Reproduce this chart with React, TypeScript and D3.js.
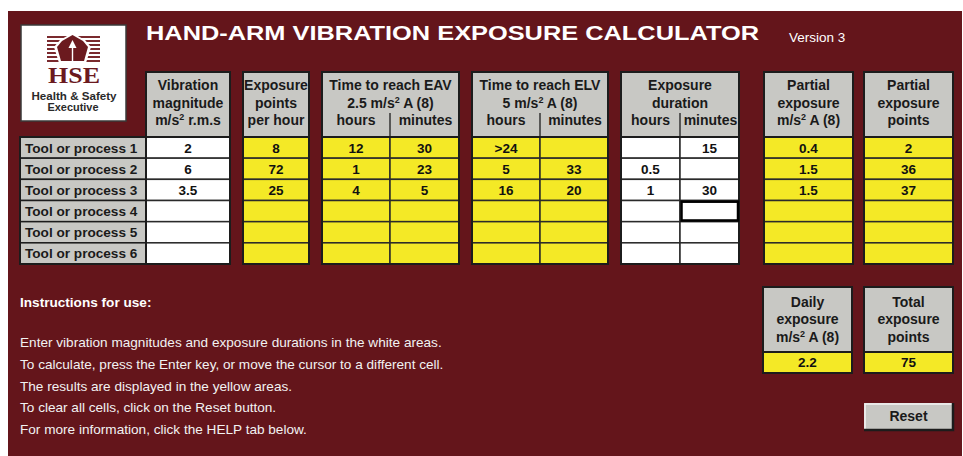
import * as d3 from "d3";

// rows of the sheet
const tools = [
  "Tool or process 1",
  "Tool or process 2",
  "Tool or process 3",
  "Tool or process 4",
  "Tool or process 5",
  "Tool or process 6",
];

// values ("" = empty cell)
const vibrationMagnitude = ["2", "6", "3.5", "", "", ""];
const pointsPerHour = ["8", "72", "25", "", "", ""];
const eavHours = ["12", "1", "4", "", "", ""];
const eavMinutes = ["30", "23", "5", "", "", ""];
const elvHours = [">24", "5", "16", "", "", ""];
const elvMinutes = ["", "33", "20", "", "", ""];
const durationHours = ["", "0.5", "1", "", "", ""];
const durationMinutes = ["15", "", "30", "", "", ""];
const partialExposure = ["0.4", "1.5", "1.5", "", "", ""];
const partialPoints = ["2", "36", "37", "", "", ""];
const dailyExposure = "2.2";
const totalPoints = "75";

const instructions = [
  "Enter vibration magnitudes and exposure durations in the white areas.",
  "To calculate, press the Enter key, or move the cursor to a different cell.",
  "The results are displayed in the yellow areas.",
  "To clear all cells, click on the Reset button.",
  "For more information, click the HELP tab below.",
];

// colours
const MAROON = "#64151b";
const YELLOW = "#f4e926";
const GREY = "#c8c8c4";
const WHITE = "#ffffff";
const DARK = "#1c1c1c";
const FONT = "'Liberation Sans', Arial, Helvetica, sans-serif";

const W = 963;
const H = 456;
const HEAD_TOP = 72;
const ROW_TOP = 137;
const ROW_BOTTOM = 264;

// column groups of the sheet
const groups = [
  { x0: 146, x1: 230, fill: WHITE, header: ["Vibration", "magnitude", "m/s² r.m.s"], cols: [vibrationMagnitude] },
  { x0: 243, x1: 309, fill: YELLOW, header: ["Exposure", "points", "per hour"], cols: [pointsPerHour] },
  { x0: 322, x1: 459, split: 390, fill: YELLOW, header: ["Time to reach EAV", "2.5 m/s² A (8)"], cols: [eavHours, eavMinutes] },
  { x0: 472, x1: 608, split: 540, fill: YELLOW, header: ["Time to reach ELV", "5 m/s² A (8)"], cols: [elvHours, elvMinutes] },
  { x0: 621, x1: 739, split: 680, fill: WHITE, header: ["Exposure", "duration"], cols: [durationHours, durationMinutes] },
  { x0: 764, x1: 853, fill: YELLOW, header: ["Partial", "exposure", "m/s² A (8)"], cols: [partialExposure] },
  { x0: 864, x1: 953, fill: YELLOW, header: ["Partial", "exposure", "points"], cols: [partialPoints] },
];

const headBaselines = [90, 108, 125];

// renders "²" as a small raised 2
const supText = (s: string) => {
  const i = s.indexOf("²");
  if (i < 0) return s;
  return (
    <>
      {s.slice(0, i)}
      <tspan fontSize={9} dy={-5}>2</tspan>
      <tspan dy={5}>{s.slice(i + 1)}</tspan>
    </>
  );
};

export default function App() {
  const y = d3.scaleBand<string>().domain(tools).range([ROW_TOP, ROW_BOTTOM]);
  const bh = y.bandwidth();

  return (
    <svg
      width={W}
      height={H}
      style={{ position: "absolute", left: 0, top: 0, background: "#fff" }}
      fontFamily={FONT}
    >
      <rect x={8} y={11} width={954} height={H - 11} fill={MAROON} />

      {/* logo */}
      <g>
        <rect x={21} y={25} width={105} height={96} fill={WHITE} stroke="#3a3a3a" strokeWidth={1.5} />
        {d3.range(7).map((i) => (
          <rect key={i} x={47} y={36 + i * 4} width={53} height={2} fill="#7a2a2e" />
        ))}
        <polygon points="72.5,33 85,40 91,47 86,63 59,63 54,47 60,40" fill={WHITE} />
        <polygon points="72.5,35 83,41 88,47 84,61 61,61 57,47 62,41" fill="#6b1a1f" />
        <polygon points="72.5,40 68.5,48 76.5,48" fill={WHITE} />
        <rect x={71.8} y={48} width={1.4} height={13} fill={WHITE} />
        <text x={74} y={82.5} textAnchor="middle" fontFamily="'Liberation Serif', 'DejaVu Serif', serif"
          fontWeight="bold" fontSize={24} fill="#6b1a1f" textLength={52} lengthAdjust="spacingAndGlyphs">HSE</text>
        <text x={74} y={99.5} textAnchor="middle" fontWeight="bold" fontSize={10.5} fill="#2a2a2a"
          textLength={85} lengthAdjust="spacingAndGlyphs">Health &amp; Safety</text>
        <text x={73} y={110.5} textAnchor="middle" fontWeight="bold" fontSize={10.5} fill="#2a2a2a"
          textLength={51} lengthAdjust="spacingAndGlyphs">Executive</text>
      </g>

      {/* title */}
      <text x={146} y={40} fill={WHITE} fontWeight="bold" fontSize={21} textLength={613}
        lengthAdjust="spacingAndGlyphs">HAND-ARM VIBRATION EXPOSURE CALCULATOR</text>
      <text x={789} y={42} fill={WHITE} fontSize={13.5}>Version 3</text>

      {/* row labels */}
      <g>
        {tools.map((t) => (
          <g key={t}>
            <rect x={20} y={y(t)} width={126} height={bh} fill={GREY} stroke={DARK} strokeWidth={1.5} />
            <text x={25} y={y(t)! + bh / 2 + 5} fontWeight="bold" fontSize={13.6} fill="#1a1a1a">{t}</text>
          </g>
        ))}
        <rect x={20} y={ROW_TOP} width={126} height={ROW_BOTTOM - ROW_TOP} fill="none" stroke={DARK} strokeWidth={2} />
      </g>

      {/* column groups */}
      {groups.map((g, gi) => {
        const cx = (g.x0 + g.x1) / 2;
        const cells = g.cols.map((vals, ci) => {
          const a = ci === 0 ? g.x0 : g.split!;
          const b = ci === 0 && g.split ? g.split : g.x1;
          return { vals, a, b };
        });
        return (
          <g key={gi}>
            <rect x={g.x0} y={HEAD_TOP} width={g.x1 - g.x0} height={ROW_TOP - HEAD_TOP} fill={GREY} />
            {g.header.map((line, li) => (
              <text key={li} x={cx} y={headBaselines[li]} textAnchor="middle" fontWeight="bold"
                fontSize={14} fill="#1a1a1a">{supText(line)}</text>
            ))}
            {g.split && (
              <>
                <text x={(g.x0 + g.split) / 2} y={headBaselines[2]} textAnchor="middle" fontWeight="bold"
                  fontSize={14} fill="#1a1a1a">hours</text>
                <text x={(g.split + g.x1) / 2 + 1} y={headBaselines[2]} textAnchor="middle" fontWeight="bold"
                  fontSize={14} fill="#1a1a1a">minutes</text>
                <line x1={g.split} x2={g.split} y1={113} y2={ROW_TOP} stroke="#333" strokeWidth={1.5} />
              </>
            )}
            {cells.map((c, ci) =>
              tools.map((t, ri) => (
                <g key={`${ci}-${ri}`}>
                  <rect x={c.a} y={y(t)} width={c.b - c.a} height={bh} fill={g.fill}
                    stroke="#2a2a2a" strokeWidth={1.5} />
                  <text x={(c.a + c.b) / 2} y={y(t)! + bh / 2 + 5} textAnchor="middle" fontWeight="bold"
                    fontSize={13.5} fill="#111">{c.vals[ri]}</text>
                </g>
              ))
            )}
            <line x1={g.x0} x2={g.x1} y1={ROW_TOP} y2={ROW_TOP} stroke={DARK} strokeWidth={2} />
            <rect x={g.x0} y={HEAD_TOP} width={g.x1 - g.x0} height={ROW_BOTTOM - HEAD_TOP} fill="none"
              stroke={DARK} strokeWidth={2} />
          </g>
        );
      })}

      {/* active cell */}
      <rect x={681.5} y={y(tools[3])! + 1.2} width={56.5} height={bh - 2.4} fill="none" stroke="#000"
        strokeWidth={2.5} />

      {/* instructions */}
      <text x={20} y={306.5} fill={WHITE} fontWeight="bold" fontSize={13.6}>Instructions for use:</text>
      {instructions.map((s, i) => (
        <text key={i} x={20} y={347 + i * 21.8} fill="#f2f2f2" fontSize={13.6}>{s}</text>
      ))}

      {/* totals */}
      {[
        { x0: 763, x1: 852, header: ["Daily", "exposure", "m/s² A (8)"], value: dailyExposure },
        { x0: 864, x1: 953, header: ["Total", "exposure", "points"], value: totalPoints },
      ].map((b, i) => (
        <g key={i}>
          <rect x={b.x0} y={287} width={b.x1 - b.x0} height={65} fill={GREY} />
          <rect x={b.x0} y={352} width={b.x1 - b.x0} height={21} fill={YELLOW} />
          <line x1={b.x0} x2={b.x1} y1={352} y2={352} stroke={DARK} strokeWidth={2} />
          <rect x={b.x0} y={287} width={b.x1 - b.x0} height={86} fill="none" stroke={DARK} strokeWidth={2} />
          {b.header.map((line, li) => (
            <text key={li} x={(b.x0 + b.x1) / 2} y={306.5 + li * 17.5} textAnchor="middle" fontWeight="bold"
              fontSize={14} fill="#1a1a1a">{supText(line)}</text>
          ))}
          <text x={(b.x0 + b.x1) / 2} y={367} textAnchor="middle" fontWeight="bold" fontSize={13.5}
            fill="#111">{b.value}</text>
        </g>
      ))}

      {/* reset button */}
      <g>
        <rect x={864} y={403} width={89} height={27} fill={GREY} />
        <polyline points="865,429 865,404 952,404" fill="none" stroke="#f4f4f4" strokeWidth={1.5} />
        <polyline points="864,430 953,430 953,403" fill="none" stroke={DARK} strokeWidth={2.5} />
        <text x={908.5} y={421} textAnchor="middle" fontWeight="bold" fontSize={14} fill="#1a1a1a">Reset</text>
      </g>
    </svg>
  );
}
